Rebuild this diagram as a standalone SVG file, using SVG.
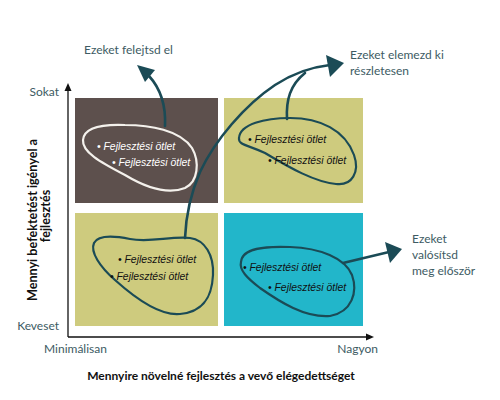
<svg xmlns="http://www.w3.org/2000/svg" width="500" height="400" viewBox="0 0 500 400">
<style>
.lbl{font-family:Lato,"Liberation Sans",sans-serif;font-size:12px;fill:#3d5b63}
.ttl{font-family:Lato,"Liberation Sans",sans-serif;font-size:12px;font-weight:bold;fill:#111}
.ttlv{font-size:12.6px}
.hw{font-family:"Liberation Sans",Arial,sans-serif;font-style:italic;font-size:10.4px}
.blob{fill:none;stroke-width:2.2;stroke-linejoin:round}
.con{fill:none;stroke:#1b4b56;stroke-width:2.6;stroke-linecap:round}
.head{fill:#1b4b56}
.axis{stroke:#111;stroke-width:1.3;fill:none}
</style>
<rect width="500" height="400" fill="#fff"/>
<g id="axes">
<line class="axis" x1="68" y1="337" x2="68" y2="90"/>
<polygon points="68,83 64.5,91 71.5,91" fill="#111"/>
<line class="axis" x1="68" y1="337" x2="367" y2="337"/>
<polygon points="374,337 366,333.5 366,340.5" fill="#111"/>
<text class="lbl" x="59" y="96" text-anchor="end">Sokat</text>
<text class="lbl" x="59" y="330" text-anchor="end">Keveset</text>
<text class="lbl" x="44" y="353">Minimálisan</text>
<text class="lbl" x="378" y="353" text-anchor="end">Nagyon</text>
<text class="ttl" x="221" y="380" text-anchor="middle">Mennyire növelné fejlesztés a vevő elégedettséget</text>
<text class="ttl ttlv" transform="translate(37,220) rotate(-90)" text-anchor="middle">Mennyi befektetést igényel a</text>
<text class="ttl ttlv" transform="translate(50,216) rotate(-90)" text-anchor="middle">fejlesztés</text>
</g>
<g id="q-forget">
<rect x="75" y="98" width="143" height="105" fill="#5d504d"/>
<path class="blob" stroke="#f4f1ec" d="M83,140 C84,128 100,124 125,125 C150,125 180,130 192,148 C200,162 198,182 185,188 C170,194 150,190 125,175 C100,162 82,152 83,140 Z"/>
<text class="hw" fill="#fff" x="97" y="150">• Fejlesztési ötlet</text>
<text class="hw" fill="#fff" x="112" y="166">• Fejlesztési ötlet</text>
</g>
<g id="q-analyze">
<rect x="224" y="98" width="139" height="105" fill="#cecb7e"/>
<path class="blob" stroke="#1b4b56" d="M239,138 C240,124 265,118 290,118 C320,118 345,130 354,155 C360,172 352,186 336,184 C315,182 290,168 265,153 C248,145 238,145 239,138 Z"/>
<text class="hw" fill="#111" x="248" y="143">• Fejlesztési ötlet</text>
<text class="hw" fill="#111" x="268" y="164">• Fejlesztési ötlet</text>
</g>
<g id="q-low">
<rect x="75" y="213" width="143" height="113" fill="#cecb7e"/>
<path class="blob" stroke="#1b4b56" d="M94,243 C98,235 115,236 130,239 C150,243 170,236 190,238 C205,240 214,255 213,275 C212,295 205,312 180,314 C160,316 135,298 115,280 C100,267 90,252 94,243 Z"/>
<text class="hw" fill="#111" x="118" y="263">• Fejlesztési ötlet</text>
<text class="hw" fill="#111" x="110" y="280">• Fejlesztési ötlet</text>
</g>
<g id="q-first">
<rect x="224" y="213" width="139" height="113" fill="#22b6ca"/>
<path class="blob" stroke="#1b4b56" d="M241,262 C242,248 265,246 290,247 C320,248 345,258 352,275 C358,292 352,312 330,316 C305,318 280,302 260,288 C247,278 239,270 241,262 Z"/>
<text class="hw" fill="#111" x="243" y="271">• Fejlesztési ötlet</text>
<text class="hw" fill="#111" x="268" y="291">• Fejlesztési ötlet</text>
</g>
<g id="connectors">
<path class="con" d="M165,126 C166,105 160,88 149,76"/>
<polygon class="head" points="137,65 155,70 145,82"/>
<path class="con" d="M185,238 C186,215 190,195 200,172 C215,140 245,105 275,85 C295,72 312,67 330,65"/>
<path class="con" d="M287,119 C286,100 290,85 305,73"/>
<polygon class="head" points="344,63 326,55 330,77"/>
<path class="con" d="M343,263 L389,252"/>
<polygon class="head" points="402,249 385,242 390,263"/>
</g>
<g id="outcomes">
<text class="lbl" x="84" y="54">Ezeket felejtsd el</text>
<text class="lbl" x="350" y="59">Ezeket elemezd ki</text>
<text class="lbl" x="350" y="75">részletesen</text>
<text class="lbl" x="412" y="243">Ezeket</text>
<text class="lbl" x="412" y="259">valósítsd</text>
<text class="lbl" x="412" y="275">meg először</text>
</g>
</svg>
